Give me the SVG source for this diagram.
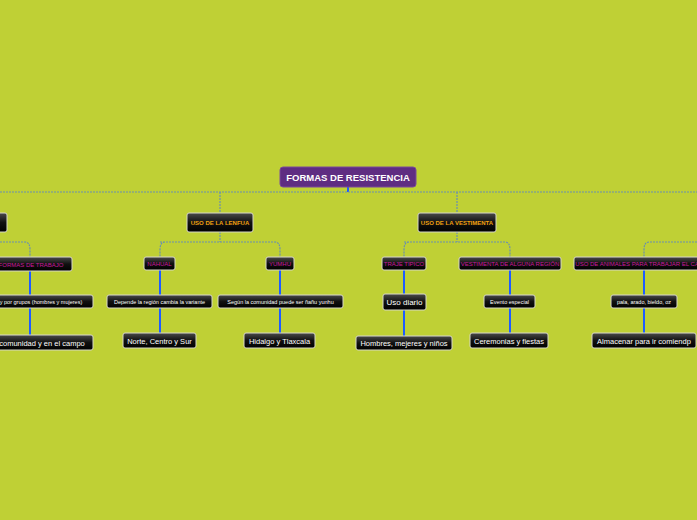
<svg xmlns="http://www.w3.org/2000/svg" width="697" height="520" viewBox="0 0 697 520">
<defs>
<linearGradient id="g" x1="0" y1="0" x2="0" y2="1"><stop offset="0" stop-color="#4a4a4a"/><stop offset="0.5" stop-color="#111"/><stop offset="1" stop-color="#000"/></linearGradient>
</defs>
<style>
.b{fill:url(#g);stroke:#d8d8c8;stroke-width:1}
.t{font-family:"Liberation Sans",Arial,sans-serif;fill:#fff;text-anchor:middle}
.o{fill:#f0a010;font-size:6px;font-weight:bold}
.m{fill:#c8189c;font-size:6px}
.d{stroke:#6a8fb0;stroke-width:1.2;stroke-dasharray:2 1;fill:none}
.s{stroke:#1e5cff;stroke-width:2;fill:none}
</style>
<rect width="697" height="520" fill="#bfd035"/>
<g id="connectors">
<path class="s" d="M348 187V192" stroke-width="1"/>
<path class="d" d="M0 192H697M220 192V212M457 192V212"/>
<path class="d" d="M220 232V242M165 242Q160 242 160 250V257M160 242H275Q280 242 280 250V257"/>
<path class="d" d="M0 242H25Q30 242 30 250V257"/>
<path class="d" d="M457 232V242M409 242Q404 242 404 250V257M404 242H505Q510 242 510 250V257"/>
<path class="d" d="M697 242H649Q644 242 644 250V257"/>
<path class="s" d="M160 270V295M160 308V333M280 270V295M280 308V333M30 271V295M30 308V335M404 270V294M404 310V336M510 270V295M510 308V333M644 270V295M644 308V333"/>
</g>
<g id="root"><rect x="280" y="167" width="136" height="20" rx="3" fill="#5f2d82" stroke="#7a4a9a"/><text class="t" x="348" y="181" font-size="9.5" font-weight="bold">FORMAS DE RESISTENCIA</text></g>
<g id="n-left"><rect class="b" x="-10" y="213" width="17" height="19" rx="2"/></g>
<g id="n-lengua"><rect class="b" x="187" y="213" width="66" height="19" rx="2"/><text class="t o" x="220" y="225">USO DE LA LENFUA</text></g>
<g id="n-vest"><rect class="b" x="418" y="213" width="78" height="19" rx="2"/><text class="t o" x="457" y="225">USO DE LA VESTIMENTA</text></g>
<g id="n-trabajo"><rect class="b" x="-10" y="257" width="82" height="14" rx="2"/><text class="t m" x="31" y="266.5">FORMAS DE TRABAJO</text></g>
<g id="n-nahual"><rect class="b" x="144" y="257" width="31" height="13" rx="2"/><text class="t m" x="159.5" y="266">NAHUAL</text></g>
<g id="n-yumhu"><rect class="b" x="266" y="257" width="28" height="13" rx="2"/><text class="t m" x="280" y="266">YUMHU</text></g>
<g id="n-traje"><rect class="b" x="382" y="257" width="44" height="13" rx="2"/><text class="t m" x="404" y="266">TRAJE TIPICO</text></g>
<g id="n-region"><rect class="b" x="459" y="257" width="102" height="13" rx="2"/><text class="t m" x="510" y="266">VESTIMENTA DE ALGUNA REGIÓN</text></g>
<g id="n-animales"><rect class="b" x="574" y="257" width="130" height="13" rx="2"/><text class="t m" x="644" y="266">USO DE ANIMALES PARA TRABAJAR EL CAMPO</text></g>
<g id="n-grupos"><rect class="b" x="-10" y="295" width="103" height="13" rx="2"/><text class="t" x="41" y="304" font-size="5.5">y por grupos (hombres y mujeres)</text></g>
<g id="n-depende"><rect class="b" x="107" y="295" width="105" height="13" rx="2"/><text class="t" x="159.5" y="304" font-size="5.5">Depende la región cambia la variante</text></g>
<g id="n-segun"><rect class="b" x="218" y="295" width="125" height="13" rx="2"/><text class="t" x="280.5" y="304" font-size="5.5">Según la comunidad puede ser ñañu  yunhu</text></g>
<g id="n-uso"><rect class="b" x="383" y="294" width="43" height="16" rx="2"/><text class="t" x="404.5" y="305" font-size="8">Uso diario</text></g>
<g id="n-evento"><rect class="b" x="484" y="295" width="51" height="13" rx="2"/><text class="t" x="509.5" y="304" font-size="5.5">Evento especial</text></g>
<g id="n-pala"><rect class="b" x="611" y="295" width="66" height="13" rx="2"/><text class="t" x="644" y="304" font-size="5.5">pala, arado, bieldo, oz</text></g>
<g id="n-campo"><rect class="b" x="-10" y="335" width="103" height="15" rx="2"/><text class="t" x="42" y="345.5" font-size="7.5">comunidad y en el campo</text></g>
<g id="n-norte"><rect class="b" x="123" y="333" width="73" height="15" rx="2"/><text class="t" x="159.5" y="343.5" font-size="7.5">Norte, Centro y Sur</text></g>
<g id="n-hidalgo"><rect class="b" x="244" y="333" width="71" height="15" rx="2"/><text class="t" x="279.5" y="343.5" font-size="7.5">Hidalgo y Tlaxcala</text></g>
<g id="n-hombres"><rect class="b" x="356" y="336" width="96" height="14" rx="2"/><text class="t" x="404" y="346" font-size="7.5">Hombres, mejeres y niños</text></g>
<g id="n-ceremonias"><rect class="b" x="470" y="333" width="78" height="15" rx="2"/><text class="t" x="509" y="343.5" font-size="7.5">Ceremonias y fiestas</text></g>
<g id="n-almacenar"><rect class="b" x="592" y="333" width="104" height="15" rx="2"/><text class="t" x="644" y="343.5" font-size="7.5">Almacenar para ir comiendp</text></g>
</svg>
